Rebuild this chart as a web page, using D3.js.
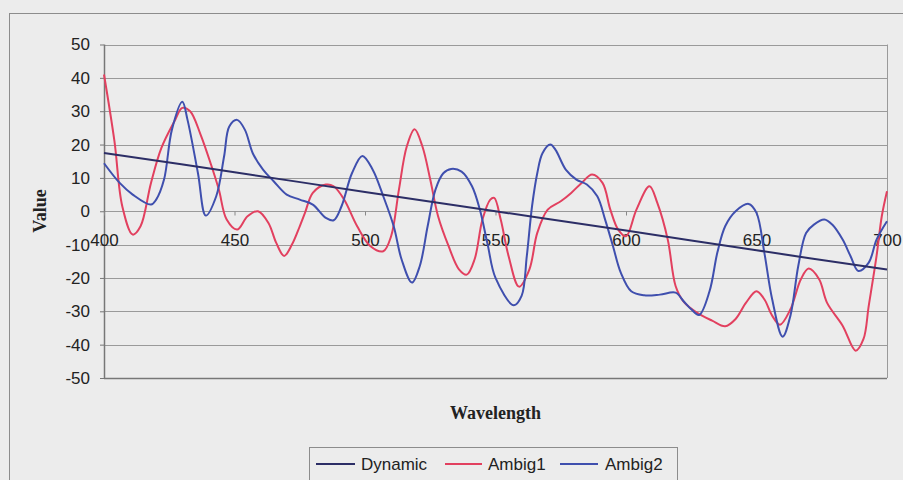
<!DOCTYPE html>
<html><head><meta charset="utf-8">
<script src="https://cdn.jsdelivr.net/npm/d3@7"></script>
<style>
html,body{margin:0;padding:0;background:#ececec;}
svg{display:block;}
</style></head>
<body>
<svg id="chart" width="903" height="480"></svg>
<script>
// ---- data ----
const xTicks = [400, 450, 500, 550, 600, 650, 700];
const yTicks = [-50, -40, -30, -20, -10, 0, 10, 20, 30, 40, 50];
const seriesNames = ["Dynamic", "Ambig1", "Ambig2"];

const dynamicWl  = [400, 450, 500, 550, 600, 650, 700];
const dynamicVal = [17.5, 11.7, 5.8, 0, -5.8, -11.7, -17.5];

const ambig1Wl  = [400,404,407,411,414,418,422,427,430,433,437,441,444,447,451,455,459,463,466,469,472,475,477,480,485,488,492,497,502,507,510,513,516,519,522,525,528,532,536,539,542,545,548,549.5,552,555,559,563,566,570,575,579,583,587,591,594,597,600,604,609,612,616,619,622,627,633,638,642,646,650,653,656,659,663,667,670,674,677,683,688,691,693,696,698,700];
const ambig1Val = [41,21,1.5,-7,-4.5,8.5,19,27,31,30,23,14,6.5,-2.5,-5.5,-1.5,0,-3.5,-9.5,-13.4,-10,-4.5,-0.5,5.5,8,7.5,3.5,-4.5,-10.4,-12,-7.5,6.5,19.4,24.6,19.4,9.5,-1.5,-10.4,-17.4,-19,-14.4,-2.5,3.5,4,-2.5,-13.4,-22.6,-17.4,-6.5,0.5,3,5.5,8.5,11,8.5,0.5,-5.5,-7.5,0.5,7.5,2.5,-8.5,-22.4,-27,-30.3,-32.8,-34.5,-32.3,-27.4,-24,-26.4,-31.3,-34,-29.4,-20.4,-17.2,-20.4,-27.4,-34.3,-41.8,-38.3,-28.4,-13.4,-1.5,6];

const ambig2Wl  = [400,406,411,418,420,423,426,430,432,436,439,443,446,448,451,454,457,461,465,470,475,480,485,488,491,495,499,503,507,511,514,518,521,524,527,530,533,537,541,544,547,550,557,560,562,564,566,568,571,573,577,581,585,589,592,595,598,602,607,613,619,622,625,628,632,635,638,642,647,650,653,656,660,663,666,669,672,676,679,683,686,689,693,696,700];
const ambig2Val = [14.4,8.5,5,2,3.5,9.5,24.4,32.8,27.4,11.4,-1.3,4.5,16.4,25.4,27.4,24.4,17.4,12.4,9,5,3.5,2,-2,-2.7,1.5,11.4,16.6,12.4,4.5,-4.5,-14.4,-21.4,-16.4,-4.5,6.5,11.4,12.7,11.9,7.5,0.5,-10,-20,-28.2,-25.4,-13.4,1.5,11.4,17.4,20,18.4,12.4,9.5,8,4.5,-2.5,-10.4,-18.4,-24,-25.2,-25,-24.4,-26.9,-29.4,-31.1,-24,-12.4,-4.5,0,2.2,-0.5,-12.4,-26.4,-37.6,-31.3,-16.4,-6.5,-4,-2.5,-4,-8.5,-13.4,-17.9,-15.4,-8.5,-3];

// ---- drawing ----
(function () {
const svg = d3.select("#chart");
const W = 903, H = 480;
const pLeft = 104, pRight = 887, pTop = 44.5, pBottom = 378;
const colors = {Dynamic: "#2c2e66", Ambig1: "#e2405f", Ambig2: "#3f4fae"};
const sansFont = "'Liberation Sans', Arial, sans-serif";
const serifFont = "'Liberation Serif', 'Times New Roman', serif";
const plainFmt = d => String(d);

svg.append("rect").attr("width", W).attr("height", H).attr("fill", "#ececec");
// outer chart border
svg.append("rect").attr("x", 9.5).attr("y", 13.5).attr("width", 1000).attr("height", 1000)
  .attr("fill", "none").attr("stroke", "#8c8c8c").attr("stroke-width", 1);

const x = d3.scaleLinear().domain([400, 700]).range([pLeft, pRight]);
const y = d3.scaleLinear().domain([-50, 50]).range([pBottom, pTop]);

// gridlines
svg.append("g").selectAll("line").data(yTicks).join("line")
  .attr("x1", pLeft).attr("x2", pRight)
  .attr("y1", d => Math.round(y(d)) + 0.5).attr("y2", d => Math.round(y(d)) + 0.5)
  .attr("stroke", d => d === -50 ? "#777" : "#9a9a9a").attr("stroke-width", d => d === -50 ? 1.5 : 1);
// right border
svg.append("line").attr("x1", pRight + 0.5).attr("x2", pRight + 0.5).attr("y1", pTop).attr("y2", pBottom)
  .attr("stroke", "#9a9a9a");

// y axis
const yAxis = d3.axisLeft(y).tickValues(yTicks).tickSize(4).tickPadding(10).tickFormat(plainFmt);
const gy = svg.append("g").attr("transform", `translate(${pLeft},0)`).call(yAxis);
gy.select(".domain").remove();
gy.selectAll(".tick line").attr("stroke", "#777");
gy.selectAll("text").attr("font-family", sansFont).attr("font-size", 17).attr("fill", "#222");
svg.append("line").attr("x1", pLeft + 0.5).attr("x2", pLeft + 0.5).attr("y1", pTop).attr("y2", pBottom + 1)
  .attr("stroke", "#777").attr("stroke-width", 1.5);

// x axis at y = 0
const xAxis = d3.axisBottom(x).tickValues(xTicks).tickSize(4).tickPadding(18).tickFormat(plainFmt);
const gx = svg.append("g").attr("transform", `translate(0,${Math.round(y(0)) + 0.5})`).call(xAxis);
gx.select(".domain").remove();
gx.selectAll(".tick line").attr("stroke", "#888");
gx.selectAll("text").attr("font-family", sansFont).attr("font-size", 17).attr("fill", "#222");

// series
const series = [
  {name: "Dynamic", wl: dynamicWl, val: dynamicVal},
  {name: "Ambig1", wl: ambig1Wl, val: ambig1Val},
  {name: "Ambig2", wl: ambig2Wl, val: ambig2Val}
];
const line = d3.line().x(d => x(d[0])).y(d => y(d[1])).curve(d3.curveCatmullRom.alpha(0.5));
const drawOrder = ["Ambig1", "Ambig2", "Dynamic"];
drawOrder.forEach(n => {
  const s = series.find(t => t.name === n);
  svg.append("path").datum(s.wl.map((w, i) => [w, s.val[i]]))
    .attr("d", line).attr("fill", "none")
    .attr("stroke", colors[n]).attr("stroke-width", 2).attr("stroke-linejoin", "round");
});

// axis titles
svg.append("text").attr("x", (pLeft + pRight) / 2).attr("y", 419).attr("text-anchor", "middle")
  .attr("font-family", serifFont).attr("font-weight", "bold").attr("font-size", 18).attr("fill", "#222")
  .text("Wavelength");
svg.append("text").attr("transform", "translate(46,211) rotate(-90)").attr("text-anchor", "middle")
  .attr("font-family", serifFont).attr("font-weight", "bold").attr("font-size", 18).attr("fill", "#222")
  .text("Value");

// legend
const lg = svg.append("g");
lg.append("rect").attr("x", 309.5).attr("y", 447.5).attr("width", 368).attr("height", 45)
  .attr("fill", "#ececec").attr("stroke", "#8c8c8c");
const legendItems = [
  {name: "Dynamic", x1: 316, x2: 355, tx: 361},
  {name: "Ambig1", x1: 445, x2: 482, tx: 488},
  {name: "Ambig2", x1: 560, x2: 598, tx: 605}
];
legendItems.forEach(it => {
  lg.append("line").attr("x1", it.x1).attr("x2", it.x2).attr("y1", 464).attr("y2", 464)
    .attr("stroke", colors[it.name]).attr("stroke-width", 2);
  lg.append("text").attr("x", it.tx).attr("y", 470).attr("font-family", sansFont)
    .attr("font-size", 17).attr("fill", "#222").text(it.name);
});
})();
</script>
</body></html>
